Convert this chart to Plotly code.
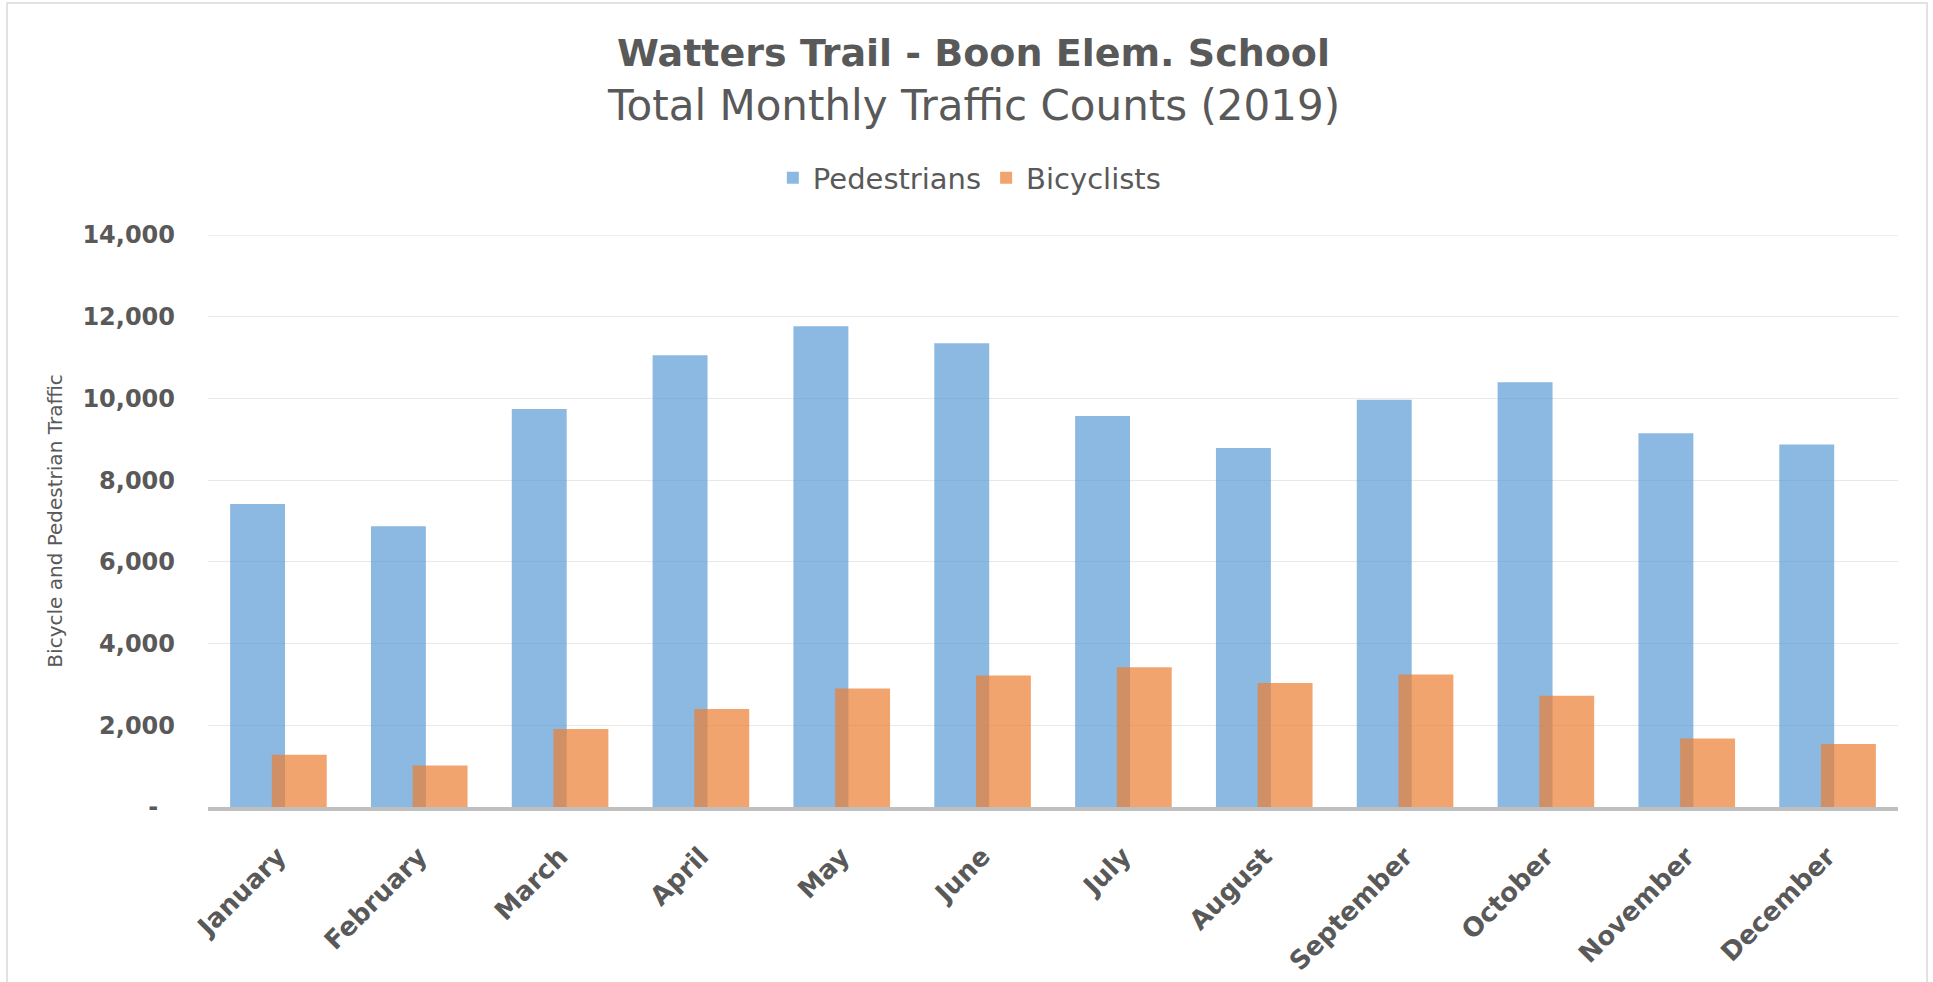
import plotly.graph_objects as go

months = ["January", "February", "March", "April", "May", "June",
          "July", "August", "September", "October", "November", "December"]
pedestrians = [7415, 6870, 9740, 11057, 11764, 11350, 9569, 8789, 9967, 10398, 9146, 8870]
bicyclists = [1276, 1016, 1911, 2398, 2902, 3220, 3423, 3033, 3244, 2724, 1675, 1545]
y_tickvals = [0, 2000, 4000, 6000, 8000, 10000, 12000, 14000]
y_ticktext = ["-\u00a0\u00a0", "2,000", "4,000", "6,000", "8,000", "10,000", "12,000", "14,000"]
y_max = 14000

FONT = "DejaVu Sans"
GREY = "#595959"
GRID = "#E8E8E8"

fig = go.Figure()
fig.add_trace(go.Bar(
    x=months, y=pedestrians, name="Pedestrians",
    width=0.39, offset=-0.343,
    marker=dict(color="rgba(91,155,213,0.7)", line=dict(width=0)),
    hoverinfo="skip",
))
fig.add_trace(go.Bar(
    x=months, y=bicyclists, name="Bicyclists",
    width=0.39, offset=-0.047,
    marker=dict(color="rgba(237,125,49,0.7)", line=dict(width=0)),
    hoverinfo="skip",
))

fig.update_layout(
    width=1933, height=982,
    margin=dict(l=208, r=35, t=235, b=175, pad=0, autoexpand=False),
    paper_bgcolor="white", plot_bgcolor="white",
    barmode="overlay",
    font=dict(family=FONT, color=GREY),
    showlegend=True,
    legend=dict(orientation="h", x=0.4505, y=1.0997, xanchor="center", yanchor="middle",
                font=dict(family=FONT, size=29, color=GREY), traceorder="normal",
                itemwidth=30, bgcolor="rgba(0,0,0,0)"),
    xaxis=dict(
        type="category", showgrid=False, zeroline=False, automargin=False,
        showline=True, linecolor="#BFBFBF", linewidth=3.5,
        tickangle=-45, ticks="",
        tickfont=dict(family=FONT, size=26, color=GREY, weight="bold"),
        ticklabelstandoff=20,
        fixedrange=True,
    ),
    yaxis=dict(
        range=[0, y_max], tickvals=y_tickvals, ticktext=y_ticktext, automargin=False,
        showgrid=True, gridcolor=GRID, gridwidth=1.3,
        zeroline=False, showline=False, ticks="",
        tickfont=dict(family=FONT, size=24, color=GREY, weight="bold"),
        ticklabelstandoff=32,
        fixedrange=True,
    ),
    annotations=[
        dict(text="<b>Watters Trail - Boon Elem. School</b>", x=0.4527, y=1.318,
             xref="paper", yref="paper", xanchor="center", yanchor="middle",
             showarrow=False, font=dict(family=FONT, size=38, color=GREY)),
        dict(text="Total Monthly Traffic Counts (2019)", x=0.4527, y=1.226,
             xref="paper", yref="paper", xanchor="center", yanchor="middle",
             showarrow=False, font=dict(family=FONT, size=42, color=GREY)),
        dict(text="Bicycle and Pedestrian Traffic", x=-0.0905, y=0.499,
             xref="paper", yref="paper", xanchor="center", yanchor="middle",
             textangle=-90, showarrow=False, font=dict(family=FONT, size=20, color=GREY)),
    ],
    shapes=[
        dict(type="rect", xref="paper", yref="paper",
             x0=-0.1189, x1=1.0172, y0=-0.33, y1=1.4056,
             line=dict(color="#D9D9D9", width=1.5), fillcolor="rgba(0,0,0,0)", layer="below"),
        # top gridline at the axis maximum (plotly omits gridlines at the plot edge)
        dict(type="line", xref="paper", yref="y", x0=0, x1=1, y0=y_max, y1=y_max,
             line=dict(color=GRID, width=1.3), layer="below"),
    ],
)

fig.write_html("out.html", config={"displayModeBar": False},
               post_script="document.body.style.margin='0';document.body.style.overflow='hidden';")
